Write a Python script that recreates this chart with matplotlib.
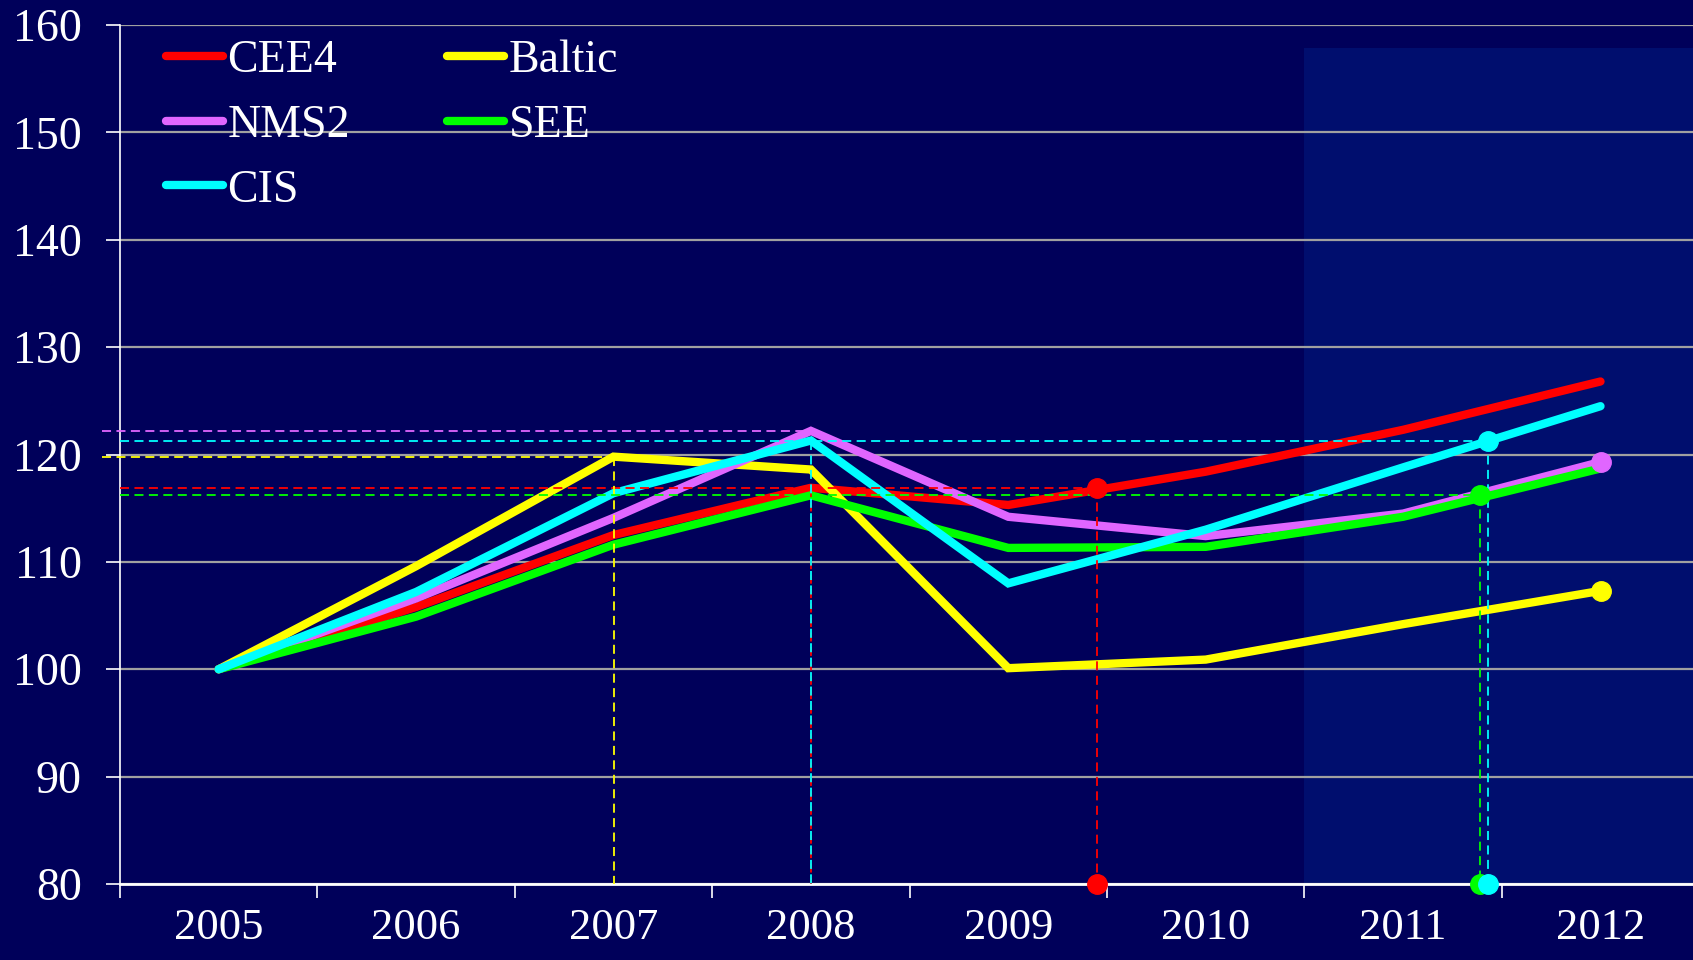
import numpy as np
import matplotlib
matplotlib.use("Agg")
import matplotlib.pyplot as plt

years = [2005, 2006, 2007, 2008, 2009, 2010, 2011, 2012]
names = ["CEE4", "Baltic", "NMS2", "SEE", "CIS"]
cee4 = [100, 105.8, 112.5, 116.9, 115.3, 118.4, 122.3, 126.8]
baltic = [100, 109.6, 119.8, 118.6, 100.1, 100.9, 104.2, 107.3]
nms2 = [100, 106.6, 114.1, 122.2, 114.2, 112.4, 114.5, 119.3]
see = [100, 104.9, 111.6, 116.2, 111.3, 111.4, 114.2, 118.7]
cis = [100, 107.2, 116.4, 121.3, 108.0, 113.0, 118.8, 124.5]
colors = ["#ff0000", "#ffff00", "#e066ff", "#00ff00", "#00ffff"]

# pre-crisis peaks and the year the series got back to that level (None = not yet)
peak_year = [2008, 2007, 2008, 2008, 2008]
recovery = [2009.45, None, None, 2011.39, 2011.43]

bg = "#00005a"
shade = "#000e6e"
plt.rcParams["font.family"] = ["Liberation Serif", "DejaVu Serif"]

fig = plt.figure(figsize=(16.93, 9.6), dpi=100, facecolor=bg)
ax = fig.add_axes([120 / 1693, 76 / 960, 1573 / 1693, 859 / 960])
ax.set_facecolor(bg)
ax.set_xlim(2004.5, 2004.5 + 1573 / 197.4)
ax.set_ylim(80, 160)

ax.axvspan(2010.5, 2013, ymin=0, ymax=(157.9 - 80) / 80, color=shade, zorder=0, lw=0)
ax.set_yticks(np.arange(80, 161, 10))
ax.yaxis.grid(True, color="#a0a0a0", lw=1.6, zorder=1)
ax.set_axisbelow(True)

series = [cee4, baltic, nms2, see, cis]
handles = []
for vals, name, c, z in zip(series, names, colors, range(5)):
    h, = ax.plot(years, vals, color=c, lw=6, label=name, solid_capstyle="round",
                 solid_joinstyle="miter", zorder=3 + z)
    handles.append(h)

dash = (0, (5, 3))
for vals, c, py, rec in zip(series, colors, peak_year, recovery):
    pv = vals[years.index(py)]
    x_end = rec if rec is not None else py
    x0 = 2004.41 if rec is None else 2004.5
    ax.plot([x0, x_end], [pv, pv], color=c, lw=1.3, ls=dash, zorder=9, clip_on=False)
    if py == 2007 or c in ("#ff0000", "#00ffff"):
        ax.plot([py, py], [pv, 80], color=c, lw=1.3, ls=dash, zorder=9)
    if rec is not None:
        ax.plot([rec, rec], [pv, 80], color=c, lw=1.3, ls=dash, zorder=9)
        ax.plot([rec, rec], [pv, 80], ls="none", marker="o", ms=14, color=c,
                zorder=10, clip_on=False)
    else:
        ax.plot(years[-1], vals[-1], marker="o", ms=14, color=c, zorder=10)

for s in ["top", "right"]:
    ax.spines[s].set_visible(False)
ax.spines["left"].set_color("white")
ax.spines["left"].set_linewidth(1.2)
ax.spines["bottom"].set_color("white")
ax.spines["bottom"].set_linewidth(2)

ax.set_xticks(years)
ax.set_xticks(np.arange(2004.5, 2012, 1), minor=True)
ax.tick_params(axis="x", which="major", length=0, pad=17, labelsize=32, labelcolor="white")
ax.tick_params(axis="x", which="minor", length=10, width=1.2, color="white", direction="out")
ax.tick_params(axis="y", length=10, width=1.2, color="white", pad=17.5, labelsize=33,
               labelcolor="white")

# legend filled column-wise, so reorder to read CEE4 Baltic / NMS2 SEE / CIS
order = [0, 2, 4, 1, 3]
leg = ax.legend([handles[i] for i in order], [names[i] for i in order],
                ncol=2, frameon=False, fontsize=33, loc="upper left",
                bbox_to_anchor=(166 / 1693, 1 - 40 / 960), bbox_transform=fig.transFigure,
                handlelength=1.24, handletextpad=0.1, columnspacing=2.12,
                labelspacing=0.48, borderpad=0, borderaxespad=0)
for t in leg.get_texts():
    t.set_color("white")

fig.savefig("out.png", dpi=100, facecolor=bg)
